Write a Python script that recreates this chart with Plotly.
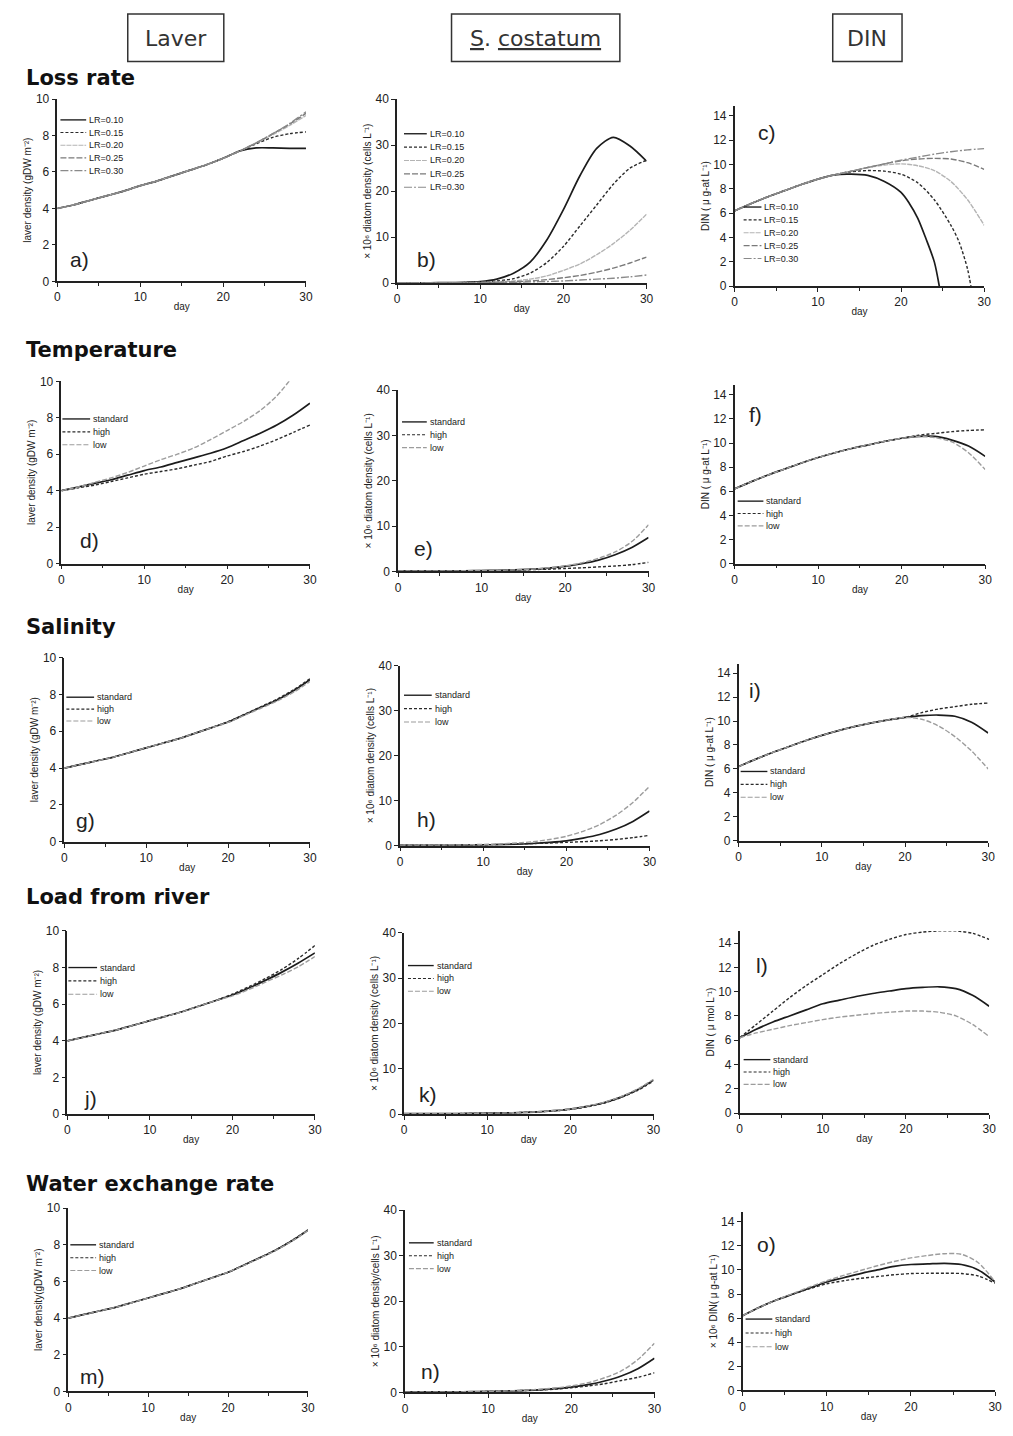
import plotly.graph_objects as go

W, H = 1013, 1436
FONT = "Liberation Sans"
HFONT = "DejaVu Sans"
DAYS = [0, 2, 4, 6, 8, 10, 12, 14, 16, 18, 20, 22, 24, 26, 28, 30]

# ---------------- data ----------------
# a) laver, loss rate
a_lr010 = [4.0, 4.2, 4.45, 4.7, 4.95, 5.25, 5.5, 5.8, 6.1, 6.4, 6.75, 7.15, 7.32, 7.32, 7.3, 7.3]
a_lr015 = [4.0, 4.2, 4.45, 4.7, 4.95, 5.25, 5.5, 5.8, 6.1, 6.4, 6.75, 7.15, 7.55, 7.9, 8.1, 8.2]
a_lr020 = [4.0, 4.2, 4.45, 4.7, 4.95, 5.25, 5.5, 5.8, 6.1, 6.4, 6.75, 7.15, 7.6, 8.05, 8.55, 9.1]
a_lr025 = [4.0, 4.2, 4.45, 4.7, 4.95, 5.25, 5.5, 5.8, 6.1, 6.4, 6.75, 7.15, 7.6, 8.1, 8.62, 9.22]
a_lr030 = [4.0, 4.2, 4.45, 4.7, 4.95, 5.25, 5.5, 5.8, 6.1, 6.4, 6.75, 7.15, 7.6, 8.1, 8.65, 9.3]
# b) S. costatum, loss rate
b_lr010 = [0.1, 0.1, 0.1, 0.15, 0.2, 0.35, 0.9, 2.2, 4.6, 9.4, 16.0, 23.4, 29.3, 31.7, 29.8, 26.5]
b_lr015 = [0.1, 0.1, 0.1, 0.1, 0.15, 0.25, 0.5, 1.0, 2.2, 4.5, 8.0, 12.5, 17.0, 21.5, 25.0, 26.7]
b_lr020 = [0.1, 0.1, 0.1, 0.1, 0.1, 0.2, 0.3, 0.5, 0.9, 1.6, 2.8, 4.2, 6.2, 8.6, 11.5, 15.0]
b_lr025 = [0.1, 0.1, 0.1, 0.1, 0.1, 0.15, 0.2, 0.3, 0.5, 0.8, 1.2, 1.7, 2.4, 3.3, 4.4, 5.7]
b_lr030 = [0.1, 0.1, 0.1, 0.1, 0.1, 0.1, 0.15, 0.2, 0.3, 0.4, 0.5, 0.7, 0.9, 1.1, 1.4, 1.8]
# c) DIN, loss rate
c_days010 = [0, 2, 4, 6, 8, 10, 12, 14, 16, 18, 20, 21, 22, 23, 24, 24.6]
c_lr010 = [6.2, 6.8, 7.35, 7.85, 8.35, 8.8, 9.15, 9.2, 9.1, 8.6, 7.7, 6.8, 5.6, 3.9, 2.0, 0.0]
c_days015 = [0, 2, 4, 6, 8, 10, 12, 14, 16, 18, 20, 22, 24, 26, 27, 28, 28.4]
c_lr015 = [6.2, 6.8, 7.35, 7.85, 8.35, 8.8, 9.15, 9.4, 9.5, 9.45, 9.2, 8.5, 7.1, 5.0, 3.6, 1.4, 0.0]
c_lr020 = [6.2, 6.8, 7.35, 7.85, 8.35, 8.8, 9.15, 9.45, 9.75, 9.95, 10.05, 9.9, 9.5, 8.6, 7.1, 5.0]
c_lr025 = [6.2, 6.8, 7.35, 7.85, 8.35, 8.8, 9.15, 9.45, 9.75, 10.05, 10.3, 10.45, 10.5, 10.45, 10.15, 9.6]
c_lr030 = [6.2, 6.8, 7.35, 7.85, 8.35, 8.8, 9.15, 9.45, 9.75, 10.05, 10.35, 10.6, 10.85, 11.05, 11.2, 11.3]
# d) laver, temperature
d_std = [4.0, 4.2, 4.4, 4.6, 4.85, 5.1, 5.3, 5.55, 5.8, 6.05, 6.35, 6.75, 7.15, 7.6, 8.15, 8.8]
d_high = [4.0, 4.15, 4.3, 4.5, 4.7, 4.9, 5.05, 5.2, 5.4, 5.6, 5.9, 6.15, 6.45, 6.8, 7.2, 7.6]
d_low = [4.0, 4.2, 4.45, 4.7, 5.0, 5.35, 5.7, 6.0, 6.35, 6.8, 7.3, 7.8, 8.4, 9.2, 10.3, 11.5]
# e) S. costatum, temperature
e_std = [0.1, 0.1, 0.1, 0.1, 0.15, 0.2, 0.25, 0.35, 0.5, 0.75, 1.1, 1.7, 2.5, 3.7, 5.3, 7.5]
e_high = [0.1, 0.1, 0.1, 0.1, 0.15, 0.15, 0.2, 0.3, 0.4, 0.5, 0.65, 0.8, 1.0, 1.2, 1.5, 2.0]
e_low = [0.1, 0.1, 0.1, 0.1, 0.15, 0.2, 0.25, 0.35, 0.5, 0.8, 1.2, 1.9, 2.9, 4.3, 6.6, 10.3]
# f) DIN, temperature
f_std = [6.2, 6.8, 7.35, 7.85, 8.35, 8.8, 9.2, 9.55, 9.85, 10.15, 10.4, 10.55, 10.55, 10.25, 9.75, 8.9]
f_high = [6.2, 6.8, 7.35, 7.85, 8.35, 8.8, 9.2, 9.55, 9.85, 10.15, 10.4, 10.65, 10.8, 10.95, 11.05, 11.1]
f_low = [6.2, 6.8, 7.35, 7.85, 8.35, 8.8, 9.2, 9.55, 9.85, 10.15, 10.4, 10.55, 10.45, 10.1, 9.2, 7.8]
# g) laver, salinity
g_std = [4.0, 4.2, 4.4, 4.6, 4.85, 5.1, 5.35, 5.6, 5.9, 6.2, 6.5, 6.9, 7.3, 7.7, 8.2, 8.8]
g_high = [4.0, 4.2, 4.4, 4.6, 4.85, 5.1, 5.35, 5.6, 5.9, 6.2, 6.52, 6.92, 7.33, 7.75, 8.25, 8.85]
g_low = [4.0, 4.2, 4.4, 4.6, 4.85, 5.1, 5.35, 5.6, 5.9, 6.2, 6.48, 6.87, 7.25, 7.65, 8.12, 8.7]
# h) S. costatum, salinity
h_std = [0.1, 0.1, 0.1, 0.1, 0.15, 0.2, 0.25, 0.35, 0.5, 0.75, 1.1, 1.7, 2.5, 3.7, 5.4, 7.7]
h_high = [0.1, 0.1, 0.1, 0.1, 0.15, 0.2, 0.3, 0.4, 0.5, 0.6, 0.75, 0.9, 1.1, 1.4, 1.8, 2.3]
h_low = [0.1, 0.1, 0.1, 0.15, 0.2, 0.3, 0.4, 0.6, 0.9, 1.4, 2.1, 3.2, 4.7, 6.8, 9.6, 13.2]
# i) DIN, salinity
i_std = [6.2, 6.8, 7.35, 7.85, 8.35, 8.8, 9.2, 9.55, 9.85, 10.1, 10.3, 10.45, 10.5, 10.4, 9.9, 9.0]
i_high = [6.2, 6.8, 7.35, 7.85, 8.35, 8.8, 9.2, 9.55, 9.85, 10.1, 10.3, 10.7, 11.0, 11.2, 11.4, 11.5]
i_low = [6.2, 6.8, 7.35, 7.85, 8.35, 8.8, 9.2, 9.55, 9.85, 10.1, 10.3, 10.15, 9.6, 8.7, 7.5, 6.0]
# j) laver, load from river
j_std = [4.0, 4.2, 4.4, 4.6, 4.85, 5.1, 5.35, 5.6, 5.9, 6.2, 6.5, 6.88, 7.3, 7.75, 8.25, 8.8]
j_high = [4.0, 4.2, 4.4, 4.6, 4.85, 5.1, 5.35, 5.6, 5.9, 6.2, 6.55, 6.95, 7.4, 7.9, 8.5, 9.2]
j_low = [4.0, 4.2, 4.4, 4.6, 4.85, 5.1, 5.35, 5.6, 5.9, 6.2, 6.45, 6.8, 7.2, 7.6, 8.05, 8.6]
# k) S. costatum, load from river
k_std = [0.1, 0.1, 0.1, 0.1, 0.15, 0.2, 0.25, 0.35, 0.5, 0.75, 1.1, 1.7, 2.5, 3.7, 5.3, 7.5]
k_high = [0.1, 0.1, 0.1, 0.1, 0.15, 0.2, 0.25, 0.35, 0.5, 0.72, 1.05, 1.6, 2.4, 3.6, 5.15, 7.3]
k_low = [0.1, 0.1, 0.1, 0.1, 0.15, 0.2, 0.25, 0.35, 0.5, 0.78, 1.15, 1.75, 2.6, 3.8, 5.45, 7.7]
# l) DIN, load from river
l_std = [6.2, 6.9, 7.5, 8.0, 8.5, 9.0, 9.3, 9.6, 9.85, 10.05, 10.25, 10.35, 10.4, 10.25, 9.7, 8.8]
l_high = [6.2, 7.3, 8.4, 9.5, 10.5, 11.4, 12.3, 13.1, 13.8, 14.3, 14.7, 14.9, 15.0, 15.0, 14.8, 14.3]
l_low = [6.2, 6.6, 6.9, 7.2, 7.45, 7.7, 7.9, 8.05, 8.2, 8.3, 8.4, 8.4, 8.3, 8.0, 7.3, 6.3]
# m) laver, water exchange rate
m_std = [4.0, 4.2, 4.4, 4.6, 4.85, 5.1, 5.35, 5.6, 5.9, 6.2, 6.5, 6.9, 7.3, 7.72, 8.22, 8.8]
m_high = [4.0, 4.2, 4.4, 4.6, 4.85, 5.1, 5.35, 5.6, 5.9, 6.2, 6.5, 6.9, 7.3, 7.73, 8.24, 8.82]
m_low = [4.0, 4.2, 4.4, 4.6, 4.85, 5.1, 5.35, 5.6, 5.9, 6.2, 6.5, 6.88, 7.28, 7.7, 8.2, 8.78]
# n) S. costatum, water exchange rate
n_std = [0.1, 0.1, 0.1, 0.1, 0.15, 0.2, 0.3, 0.4, 0.55, 0.8, 1.15, 1.7, 2.5, 3.6, 5.2, 7.5]
n_high = [0.1, 0.1, 0.1, 0.1, 0.15, 0.2, 0.3, 0.4, 0.5, 0.7, 1.0, 1.4, 1.9, 2.6, 3.3, 4.3]
n_low = [0.1, 0.1, 0.1, 0.1, 0.15, 0.2, 0.3, 0.45, 0.65, 0.95, 1.4, 2.1, 3.2, 4.7, 7.2, 10.8]
# o) DIN, water exchange rate
o_std = [6.2, 6.9, 7.5, 8.0, 8.5, 9.0, 9.35, 9.7, 10.0, 10.3, 10.45, 10.5, 10.55, 10.45, 10.0, 9.0]
o_high = [6.2, 6.9, 7.5, 8.0, 8.45, 8.85, 9.1, 9.3, 9.45, 9.6, 9.7, 9.72, 9.72, 9.7, 9.5, 8.9]
o_low = [6.2, 6.9, 7.5, 8.05, 8.6, 9.1, 9.55, 9.95, 10.35, 10.7, 11.0, 11.2, 11.35, 11.3, 10.6, 9.0]

LR_NAMES = ["LR=0.10", "LR=0.15", "LR=0.20", "LR=0.25", "LR=0.30"]
SC_NAMES = ["standard", "high", "low"]
HEADERS = ["Laver", "<u>S</u>. <u>costatum</u>", "DIN"]
SECTIONS = ["Loss rate", "Temperature", "Salinity", "Load from river", "Water exchange rate"]
LAVER_TICKS = [0, 2, 4, 6, 8, 10]
DIATOM_TICKS = [0, 10, 20, 30, 40]
DIN_TICKS = [0, 2, 4, 6, 8, 10, 12, 14]
DAY_TICKS = [0, 10, 20, 30]

# ---------------- styles ----------------
STY = {
    "std": dict(color="#1c1c1c", width=1.7, dash="solid"),
    "high": dict(color="#2a2a2a", width=1.4, dash="3px,2px"),
    "low": dict(color="#9c9c9c", width=1.4, dash="5px,2px"),
    "lr010": dict(color="#1c1c1c", width=1.7, dash="solid"),
    "lr015": dict(color="#2a2a2a", width=1.4, dash="3px,2px"),
    "lr020": dict(color="#b4b4b4", width=1.4, dash="5px,1px"),
    "lr025": dict(color="#7a7a7a", width=1.4, dash="6px,2px"),
    "lr030": dict(color="#8a8a8a", width=1.4, dash="8px,2px,2px,2px"),
}
LR_STY = ["lr010", "lr015", "lr020", "lr025", "lr030"]

LAVER_T = "laver density (gDW m⁻²)"
DIAT_T = "× 10⁶ diatom density (cells L⁻¹)"
DIN_T = "DIN ( μ g-at L⁻¹)"

def sc(a, b, c):
    return [(SC_NAMES[0], DAYS, a, "std"), (SC_NAMES[1], DAYS, b, "high"), (SC_NAMES[2], DAYS, c, "low")]

# pixel layout per panel: x0,x1 (day 0..30), ytop, ybottom; y range; legend (x0,x1,y,dy); label pos
panels = [
    dict(lab="a)", xp=(55, 306), yp=(93, 277), yr=10, tv=LAVER_TICKS, yt=LAVER_T, lp=(66, 255), lg=(58, 84, 114, 12.8),
         s=[(LR_NAMES[i], DAYS, v, LR_STY[i]) for i, v in enumerate([a_lr010, a_lr015, a_lr020, a_lr025, a_lr030])]),
    dict(lab="b)", xp=(398, 650), yp=(93, 279), yr=40, tv=DIATOM_TICKS, yt=DIAT_T, lp=(416, 255), lg=(405, 428, 128, 13.5),
         s=[(LR_NAMES[i], DAYS, v, LR_STY[i]) for i, v in enumerate([b_lr010, b_lr015, b_lr020, b_lr025, b_lr030])]),
    dict(lab="c)", xp=(739, 991), yp=(100, 282), yr=14.8, tv=DIN_TICKS, yt=DIN_T, lp=(761, 127), lg=(748, 766, 202, 13),
         s=[(LR_NAMES[0], c_days010, c_lr010, "lr010"), (LR_NAMES[1], c_days015, c_lr015, "lr015"),
            (LR_NAMES[2], DAYS, c_lr020, "lr020"), (LR_NAMES[3], DAYS, c_lr025, "lr025"),
            (LR_NAMES[4], DAYS, c_lr030, "lr030")]),
    dict(lab="d)", xp=(59, 310), yp=(378, 562), yr=10, tv=LAVER_TICKS, yt=LAVER_T, lp=(76, 539), lg=(60, 88, 416, 13), s=sc(d_std, d_high, d_low)),
    dict(lab="e)", xp=(399, 652), yp=(387, 570), yr=40, tv=DIATOM_TICKS, yt=DIAT_T, lp=(413, 547), lg=(403, 428, 419, 13), s=sc(e_std, e_high, e_low)),
    dict(lab="f)", xp=(739, 992), yp=(382, 562), yr=14.8, tv=DIN_TICKS, yt=DIN_T, lp=(751, 412), lg=(742, 768, 499, 12.5), s=sc(f_std, f_high, f_low)),
    dict(lab="g)", xp=(62, 310), yp=(657, 843), yr=10, tv=LAVER_TICKS, yt=LAVER_T, lp=(72, 822), lg=(64, 92, 697, 12), s=sc(g_std, g_high, g_low)),
    dict(lab="h)", xp=(401, 653), yp=(665, 847), yr=40, tv=DIATOM_TICKS, yt=DIAT_T, lp=(416, 820), lg=(405, 433, 695, 13.5), s=sc(h_std, h_high, h_low)),
    dict(lab="i)", xp=(743, 995), yp=(663, 842), yr=14.8, tv=DIN_TICKS, yt=DIN_T, lp=(751, 690), lg=(745, 772, 772, 13), s=sc(i_std, i_high, i_low)),
    dict(lab="j)", xp=(65, 315), yp=(933, 1118), yr=10, tv=LAVER_TICKS, yt=LAVER_T, lp=(80, 1102), lg=(66, 95, 970, 13.5), s=sc(j_std, j_high, j_low)),
    dict(lab="k)", xp=(405, 657), yp=(935, 1118), yr=40, tv=DIATOM_TICKS, yt=DIAT_T, lp=(418, 1098), lg=(409, 435, 968, 13), s=sc(k_std, k_high, k_low)),
    dict(lab="l)", xp=(744, 996), yp=(933, 1117), yr=15, tv=DIN_TICKS, yt="DIN ( μ mol L⁻¹)", lp=(758, 968), lg=(748, 775, 1063, 12.5), s=sc(l_std, l_high, l_low)),
    dict(lab="m)", xp=(66, 308), yp=(1213, 1398), yr=10, tv=LAVER_TICKS, yt="laver density(gDW m⁻²)", lp=(76, 1383), lg=(68, 94, 1250, 13), s=sc(m_std, m_high, m_low)),
    dict(lab="n)", xp=(406, 658), yp=(1215, 1399), yr=40, tv=DIATOM_TICKS, yt="× 10⁶ diatom density/cells L⁻¹)", lp=(420, 1378), lg=(410, 435, 1248, 13), s=sc(n_std, n_high, n_low)),
    dict(lab="o)", xp=(747, 1002), yp=(1217, 1397), yr=14.8, tv=DIN_TICKS, yt="× 10⁶ DIN( μ g-at L⁻¹)", lp=(760, 1250), lg=(750, 777, 1325, 14), s=sc(o_std, o_high, o_low)),
]

def px(x):
    return x / W

def py(y):
    return 1 - y / H

fig = go.Figure()
shapes, annots = [], []
layout = {}

for k, p in enumerate(panels):
    n = "" if k == 0 else str(k + 1)
    xa, ya = "x" + n, "y" + n
    for name, dx, vals, st in p["s"]:
        s = STY[st]
        fig.add_trace(go.Scatter(x=dx, y=vals, mode="lines", name=name, showlegend=False,
                                 line=dict(color=s["color"], width=s["width"], dash=s["dash"], shape="spline", smoothing=0.8),
                                 xaxis=xa, yaxis=ya, hoverinfo="skip"))
    common = dict(showline=True, linecolor="#222", linewidth=1.5, ticks="outside", ticklen=4, tickwidth=1.3,
                  tickcolor="#222", showgrid=False, zeroline=False, mirror=False,
                  tickfont=dict(family=FONT, size=12, color="#222"))
    layout["xaxis" + n] = dict(common, domain=[px(p["xp"][0]), px(p["xp"][1])], anchor=ya, range=[0, 30],
                               tickvals=DAY_TICKS, minor=dict(tickvals=[5, 15, 25], ticklen=3, tickcolor="#222", ticks="outside"),
                               title=dict(text="day", font=dict(family=FONT, size=10, color="#222"), standoff=0))
    layout["yaxis" + n] = dict(common, domain=[py(p["yp"][1]), py(p["yp"][0])], anchor=xa, range=[0, p["yr"]],
                               tickvals=p["tv"],
                               title=dict(text=p["yt"], font=dict(family=FONT, size=10, color="#222"), standoff=2))
    # panel letter
    annots.append(dict(text=p["lab"], x=px(p["lp"][0]), y=py(p["lp"][1]), xref="paper", yref="paper",
                       xanchor="left", yanchor="middle", showarrow=False,
                       font=dict(family=FONT, size=21, color="#222")))
    # legend keys
    lx0, lx1, ly, dy = p["lg"]
    for i, (name, dx, vals, st) in enumerate(p["s"]):
        s = STY[st]
        yy = py(ly + i * dy)
        shapes.append(dict(type="line", xref="paper", yref="paper", x0=px(lx0), x1=px(lx1), y0=yy, y1=yy,
                           line=dict(color=s["color"], width=s["width"] * 0.8, dash=s["dash"])))
        annots.append(dict(text=name, x=px(lx1 + 1), y=yy, xref="paper", yref="paper", xanchor="left",
                           yanchor="middle", showarrow=False, font=dict(family=FONT, size=9, color="#1a1a1a")))

# column headers
boxes = [(126, 223), (453, 623), (838, 908)]
for (bx0, bx1), txt in zip(boxes, HEADERS):
    shapes.append(dict(type="rect", xref="paper", yref="paper", x0=px(bx0), x1=px(bx1), y0=py(55), y1=py(7),
                       line=dict(color="#333", width=1.5)))
    annots.append(dict(text=txt, x=px((bx0 + bx1) / 2), y=py(32), xref="paper", yref="paper",
                       xanchor="center", yanchor="middle", showarrow=False,
                       font=dict(family=HFONT, size=22, color="#333")))

# section titles
for txt, yy in zip(SECTIONS, [72, 346, 626, 899, 1189]):
    annots.append(dict(text="<b>" + txt + "</b>", x=px(21), y=py(yy), xref="paper", yref="paper",
                       xanchor="left", yanchor="middle", showarrow=False,
                       font=dict(family=HFONT, size=21, color="#111")))

fig.update_layout(width=W, height=H, margin=dict(l=0, r=0, t=0, b=0), paper_bgcolor="white",
                  plot_bgcolor="white", showlegend=False, shapes=shapes, annotations=annots,
                  font=dict(family=FONT), **layout)
fig.write_html("out.html")
